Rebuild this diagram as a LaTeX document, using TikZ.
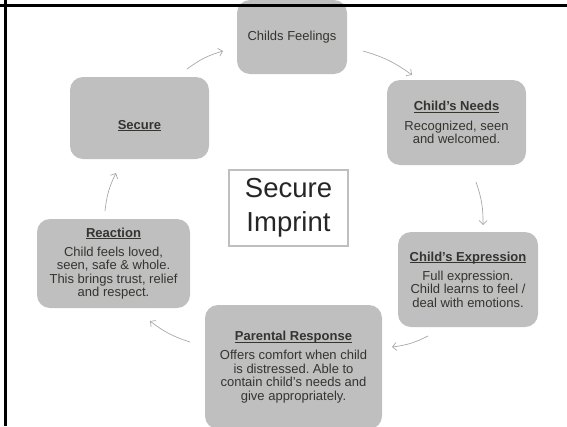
\documentclass[tikz,border=0pt]{standalone}
\usepackage{fontspec}
\setmainfont{Liberation Sans}
\usetikzlibrary{arrows.meta}
\definecolor{boxgray}{RGB}{191,191,191}
\definecolor{txtgray}{RGB}{52,52,48}
\definecolor{arrowgray}{RGB}{168,168,168}
\newcommand{\stagetitle}[1]{\underline{\raisebox{0pt}[\height][0pt]{\textbf{#1}}}}
\frenchspacing
\begin{document}
\begin{tikzpicture}[x=1pt,y=-1pt,
  stage/.style={fill=boxgray,rounded corners=13pt,inner sep=0pt,align=center,text=txtgray,font=\fontsize{13}{13.4}\selectfont},
  flow/.style={draw=arrowgray,line width=0.7pt,-{Straight Barb[length=4pt,width=8pt]},bend left=10}]
\useasboundingbox (0,0) rectangle (567,426);
\node[stage,minimum width=110,minimum height=74] (feel) at (292,37) {Childs Feelings};
\node[stage,minimum width=139,minimum height=82,text height=24pt,text depth=2pt] (secure) at (139.5,118) {\stagetitle{Secure}};
\node[stage,minimum width=139,minimum height=85] (needs) at (456.5,122.5) {\stagetitle{Child’s Needs}\\[6pt]Recognized, seen\\and welcomed.};
\node[stage,minimum width=140,minimum height=95] (expression) at (468,279.5) {\stagetitle{Child’s Expression}\\[6pt]Full expression.\\Child learns to feel /\\deal with emotions.};
\node[stage,minimum width=177,minimum height=124] (parental) at (293.5,367) {\stagetitle{Parental Response}\\[6pt]Offers comfort when child\\is distressed. Able to\\contain child’s needs and\\give appropriately.};
\node[stage,minimum width=153,minimum height=89] (reaction) at (113.5,263.5) {\stagetitle{Reaction}\\[6pt]Child feels loved,\\seen, safe \& whole.\\This brings trust, relief\\and respect.};
\node[draw=boxgray,line width=1.2pt,fill=white,minimum width=119,minimum height=76,align=center,text=black!85,font=\fontsize{27.5}{34}\selectfont] (imprint) at (288.5,208) {Secure\\Imprint};
% arrows round the cycle
\coordinate (a1s) at (187,69);  \coordinate (a1e) at (223,51);
\coordinate (a2s) at (363,51);  \coordinate (a2e) at (412,75);
\coordinate (a3s) at (476,182); \coordinate (a3e) at (483,225);
\coordinate (a4s) at (428,336); \coordinate (a4e) at (392,347);
\coordinate (a5s) at (190,342); \coordinate (a5e) at (150,321);
\coordinate (a6s) at (105,211); \coordinate (a6e) at (116,173);
\draw[flow] (a1s) to (a1e);
\draw[flow] (a2s) to (a2e);
\draw[flow] (a3s) to (a3e);
\draw[flow] (a4s) to (a4e);
\draw[flow] (a5s) to (a5e);
\draw[flow] (a6s) to (a6e);
% frame
\draw[line width=3pt] (0,5.5) -- (567,5.5);
\draw[line width=3pt] (5.5,0) -- (5.5,426);
\end{tikzpicture}
\end{document}
